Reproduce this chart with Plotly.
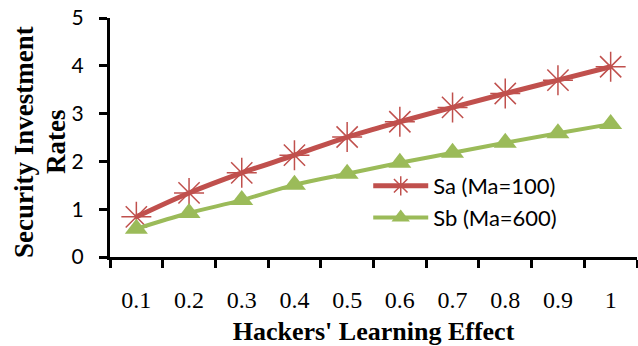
import plotly.graph_objects as go

categories = ["0.1", "0.2", "0.3", "0.4", "0.5", "0.6", "0.7", "0.8", "0.9", "1"]
sa_values = [0.84, 1.34, 1.76, 2.13, 2.51, 2.83, 3.13, 3.42, 3.70, 3.98]
sb_values = [0.59, 0.92, 1.19, 1.51, 1.74, 1.97, 2.18, 2.39, 2.59, 2.78]
y_ticks = [0, 1, 2, 3, 4, 5]
y_title_lines = ["Security Investment", "Rates"]

fig = go.Figure()
fig.add_trace(go.Scatter(
    x=categories, y=sa_values, name="Sa (Ma=100)", mode="lines+markers",
    line=dict(color="#C0504D", width=5, shape="spline"),
    marker=dict(symbol="asterisk-open", size=25, color="#C0504D",
                line=dict(color="#C0504D", width=1.5)),
))
fig.add_trace(go.Scatter(
    x=categories, y=sb_values, name="Sb (Ma=600)", mode="lines+markers",
    line=dict(color="#9BBB59", width=4, shape="spline"),
    marker=dict(symbol="triangle-up", size=20, color="#9BBB59"),
))

serif = "Liberation Serif, Times New Roman, serif"
sans = "Lato, Open Sans, sans-serif"

# y-axis title as two rotated text lines (paper coords)
for txt, xpx in zip(y_title_lines, [24, 56]):
    fig.add_annotation(
        text="<b>%s</b>" % txt, textangle=-90, showarrow=False,
        xref="paper", yref="paper",
        x=(xpx - 110) / 527, y=(257 - 142) / 239,
        xanchor="center", yanchor="middle",
        font=dict(family=serif, size=27, color="black"),
    )

fig.update_layout(
    width=638, height=346,
    margin=dict(l=110, r=1, t=18, b=89),
    plot_bgcolor="white", paper_bgcolor="white",
    showlegend=True,
    legend=dict(x=0.49, y=0.385, xanchor="left", yanchor="top",
                bgcolor="rgba(0,0,0,0)", itemwidth=55,
                font=dict(family=sans, size=22, color="black"),
                tracegroupgap=0),
    xaxis=dict(
        type="category", range=[-0.5, 9.5], automargin=False,
        showline=True, linecolor="black", linewidth=3,
        ticks="outside", tickson="boundaries", ticklen=8, tickwidth=3, tickcolor="black",
        ticklabelstandoff=19,
        tickfont=dict(family=serif, size=24, color="black"),
        showgrid=False, zeroline=False,
        title=dict(text="<b>Hackers' Learning Effect</b>", standoff=11,
                   font=dict(family=serif, size=26, color="black")),
    ),
    yaxis=dict(
        range=[0, 5], tickvals=y_ticks, automargin=False,
        showline=True, linecolor="black", linewidth=3,
        ticks="outside", ticklen=8, tickwidth=3, tickcolor="black",
        ticklabelstandoff=11,
        tickfont=dict(family=sans, size=21, color="black"),
        showgrid=False, zeroline=False,
    ),
)

fig.write_html("out.html", config={"displayModeBar": False},
               post_script="document.body.style.margin='0px';")
